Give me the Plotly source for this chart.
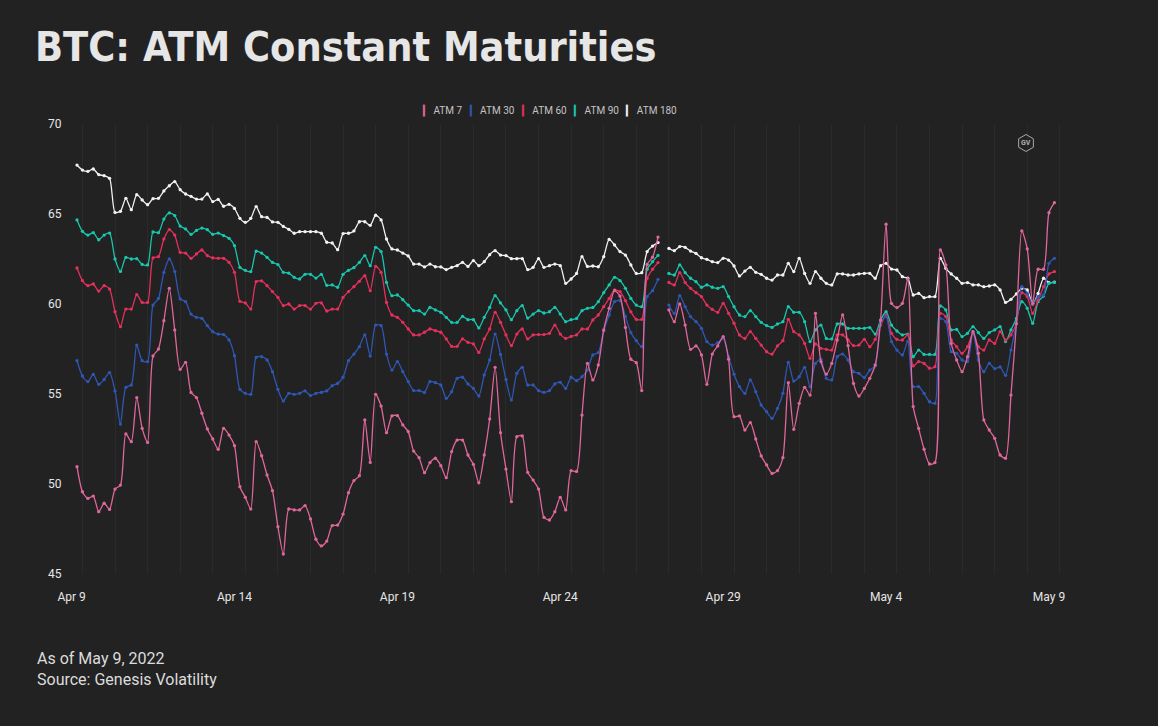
import math
import plotly.graph_objects as go
import pandas as pd

# ---------------- data (4-hourly, one missing observation on Apr 27) ----------------
times = pd.date_range("2022-04-09 04:00", periods=181, freq="4h")

atm180 = [67.72, 67.44, 67.37, 67.50, 67.19, 67.13, 66.98, 65.09, 65.15, 65.87,
          65.24, 66.07, 65.78, 65.52, 65.85, 65.87, 66.28, 66.57, 66.80, 66.35,
          66.11, 65.98, 65.83, 65.83, 66.11, 65.69, 65.81, 65.43, 65.54, 65.31,
          64.76, 64.54, 64.76, 65.41, 64.85, 64.81, 64.56, 64.54, 64.31, 64.15,
          63.93, 64.02, 64.02, 64.02, 64.02, 63.93, 63.43, 63.39, 63.02, 63.91,
          63.93, 64.06, 64.57, 64.57, 64.37, 64.93, 64.67, 63.61, 63.06, 63.00,
          62.83, 62.67, 62.22, 62.22, 62.06, 62.22, 62.07, 62.06, 61.91, 62.04,
          62.13, 62.31, 62.09, 62.41, 62.13, 62.35, 62.74, 62.96, 62.72, 62.69,
          62.52, 62.52, 62.52, 61.91, 62.04, 62.52, 62.04, 62.13, 62.22, 62.13,
          61.15, 61.39, 61.70, 62.63, 62.09, 62.11, 62.07, 62.63, 63.59, 63.28,
          62.91, 62.72, 62.17, 61.70, 61.74, 62.91, 63.22, 63.41, None, 63.09,
          62.96, 63.19, 63.15, 62.94, 62.81, 62.57, 62.48, 62.35, 62.30, 62.54,
          62.44, 62.11, 61.56, 61.83, 62.04, 61.76, 61.65, 61.43, 61.33, 61.61,
          61.61, 62.26, 61.80, 62.54, 61.70, 61.15, 61.80, 61.43, 61.15, 61.06,
          61.67, 61.67, 61.61, 61.61, 61.67, 61.70, 61.70, 61.43, 62.13, 62.26,
          61.94, 61.89, 61.52, 61.43, 60.50, 60.59, 60.35, 60.41, 60.41, 62.54,
          61.98, 61.67, 61.43, 61.15, 61.19, 61.06, 61.06, 60.96, 61.00, 61.06,
          60.78, 60.09, 60.26, 60.56, 60.87, 60.78, 60.00, 60.59, 61.43, 61.19,
          61.22]

atm90 = [64.67, 64.04, 63.83, 63.96, 63.57, 63.83, 63.94, 62.50, 61.81, 62.59,
         62.50, 62.52, 62.20, 62.17, 64.00, 63.96, 64.72, 65.06, 64.91, 64.33,
         64.17, 63.87, 64.09, 64.22, 64.13, 63.87, 63.94, 63.80, 63.65, 63.24,
         62.04, 61.87, 61.80, 62.93, 62.83, 62.59, 62.31, 62.19, 61.76, 61.72,
         61.48, 61.39, 61.65, 61.65, 61.44, 61.65, 61.04, 61.06, 60.93, 61.65,
         61.87, 62.02, 62.31, 62.69, 62.13, 63.15, 62.91, 61.20, 60.46, 60.50,
         60.24, 59.94, 59.63, 59.63, 59.44, 59.81, 59.67, 59.54, 59.26, 58.98,
         58.98, 59.31, 59.13, 59.13, 58.67, 59.26, 59.81, 60.46, 60.06, 59.67,
         59.13, 59.63, 59.91, 59.22, 59.44, 59.63, 59.50, 59.57, 59.81, 59.44,
         59.02, 59.13, 59.20, 59.63, 59.76, 59.81, 60.13, 60.63, 61.06, 61.48,
         61.30, 60.87, 60.31, 59.94, 59.85, 61.93, 62.35, 62.70, None, 61.70,
         61.61, 62.17, 61.74, 61.43, 61.24, 60.93, 61.06, 60.93, 60.87, 60.96,
         60.41, 59.85, 59.39, 59.30, 59.63, 59.30, 58.98, 58.80, 58.70, 58.89,
         59.02, 59.85, 59.54, 59.54, 59.02, 57.91, 58.56, 58.83, 58.09, 58.06,
         58.89, 58.89, 58.65, 58.65, 58.65, 58.65, 58.69, 58.33, 59.11, 59.57,
         58.83, 58.50, 58.28, 58.33, 57.07, 57.44, 57.20, 57.20, 57.20, 59.89,
         59.67, 58.56, 58.59, 58.19, 58.37, 58.74, 58.41, 58.09, 58.41, 58.56,
         58.74, 57.91, 58.56, 59.20, 60.13, 59.76, 58.93, 60.13, 60.44, 61.15,
         61.20]

atm60 = [62.00, 61.30, 61.02, 61.11, 60.72, 61.02, 60.83, 59.57, 58.74, 59.72,
         59.72, 60.52, 60.09, 60.09, 62.56, 62.63, 63.61, 64.13, 63.83, 62.87,
         62.83, 62.54, 62.78, 63.00, 62.69, 62.56, 62.54, 62.54, 62.31, 61.76,
         60.15, 60.06, 59.72, 61.24, 61.28, 61.02, 60.69, 60.37, 59.91, 60.00,
         59.72, 59.91, 59.91, 59.72, 60.04, 60.06, 59.61, 59.72, 59.72, 60.37,
         60.69, 60.96, 61.26, 61.57, 60.74, 62.09, 61.76, 60.09, 59.39, 59.26,
         58.98, 58.61, 58.28, 58.28, 58.43, 58.61, 58.52, 58.43, 58.06, 57.65,
         57.65, 58.06, 57.87, 57.78, 57.31, 58.06, 58.61, 59.54, 58.98, 58.28,
         57.69, 58.33, 58.61, 58.06, 58.28, 58.30, 58.30, 58.37, 58.83, 58.33,
         58.09, 58.20, 58.28, 58.61, 58.61, 59.11, 59.39, 59.85, 60.30, 60.78,
         60.69, 60.19, 59.57, 59.15, 59.15, 61.43, 61.93, 62.30, None, 61.20,
         61.06, 61.74, 61.19, 60.87, 60.63, 60.41, 59.94, 59.70, 59.54, 60.04,
         59.48, 58.93, 58.28, 58.09, 58.46, 58.09, 57.72, 57.35, 57.22, 57.67,
         57.96, 59.15, 58.46, 58.28, 57.81, 56.98, 57.78, 57.54, 57.48, 57.44,
         58.28, 58.28, 58.00, 57.69, 57.72, 58.04, 57.63, 58.04, 58.83, 59.39,
         58.37, 58.04, 58.00, 58.28, 56.56, 56.80, 56.70, 56.43, 56.52, 59.48,
         59.30, 58.00, 57.63, 57.26, 57.63, 58.37, 57.63, 57.44, 58.00, 57.81,
         58.46, 58.00, 58.28, 58.93, 60.63, 60.41, 59.48, 60.22, 60.96, 61.67,
         61.80]

atm30 = [56.85, 56.00, 55.69, 56.09, 55.54, 55.81, 56.19, 55.17, 53.33, 55.37,
         55.50, 57.72, 56.85, 56.80, 59.94, 60.31, 61.76, 62.50, 61.80, 60.28,
         60.13, 59.44, 59.26, 59.20, 58.80, 58.46, 58.33, 58.30, 58.00, 57.13,
         55.26, 55.04, 54.98, 57.04, 57.07, 56.89, 56.24, 55.26, 54.61, 55.04,
         54.98, 55.04, 55.17, 54.91, 55.04, 55.09, 55.17, 55.46, 55.59, 55.93,
         56.85, 57.22, 57.63, 58.28, 57.11, 58.83, 58.80, 57.22, 56.33, 56.80,
         56.24, 55.69, 55.19, 55.19, 55.09, 55.69, 55.63, 55.50, 54.76, 55.13,
         55.87, 55.93, 55.56, 55.31, 54.89, 56.06, 56.89, 58.33, 57.20, 55.81,
         54.67, 56.15, 56.48, 55.50, 55.50, 55.19, 55.09, 55.19, 55.56, 55.65,
         55.31, 55.93, 55.74, 55.96, 56.33, 57.17, 57.30, 58.50, 59.39, 60.13,
         60.19, 59.30, 58.41, 57.96, 57.63, 60.41, 60.74, 61.37, None, 59.94,
         59.48, 60.46, 59.85, 59.30, 59.02, 58.65, 57.91, 57.72, 57.85, 58.09,
         57.07, 56.10, 55.41, 55.04, 55.78, 55.13, 54.39, 54.02, 53.65, 54.20,
         55.04, 56.76, 55.72, 55.96, 56.48, 55.41, 56.70, 56.93, 55.87, 55.78,
         57.07, 57.22, 56.89, 56.24, 56.15, 55.91, 56.33, 56.57, 58.93, 59.30,
         57.91, 57.44, 57.17, 57.91, 55.41, 55.41, 55.04, 54.57, 54.48, 59.20,
         59.02, 57.35, 57.26, 56.89, 56.80, 58.46, 56.89, 56.24, 56.70, 56.41,
         56.50, 56.04, 57.44, 58.93, 60.96, 60.59, 60.00, 60.41, 60.50, 62.26,
         62.54]

atm7 = [50.96, 49.57, 49.20, 49.33, 48.46, 48.93, 48.59, 49.72, 49.94, 52.78,
        52.35, 54.80, 53.09, 52.31, 57.11, 57.50, 59.07, 60.87, 58.56, 56.37,
        56.76, 55.09, 54.80, 53.93, 53.06, 52.50, 51.93, 53.09, 52.72, 52.13,
        49.85, 49.26, 48.61, 52.35, 51.57, 50.50, 49.63, 47.63, 46.11, 48.61,
        48.56, 48.56, 48.80, 48.06, 46.93, 46.56, 46.83, 47.69, 47.72, 48.33,
        49.52, 50.19, 50.46, 53.56, 51.20, 54.98, 54.33, 52.85, 53.78, 53.80,
        53.28, 52.91, 51.83, 51.46, 50.63, 51.19, 51.43, 51.02, 50.35, 51.80,
        52.44, 52.44, 51.61, 51.09, 50.07, 51.61, 53.61, 56.48, 52.85, 50.83,
        49.02, 52.63, 52.67, 50.65, 50.22, 49.72, 48.15, 48.00, 48.46, 49.26,
        48.56, 50.74, 50.70, 53.83, 56.70, 55.78, 56.61, 58.56, 59.76, 60.74,
        60.44, 58.70, 56.93, 56.74, 55.19, 62.20, 62.60, 63.72, None, 59.67,
        59.02, 60.00, 58.83, 57.48, 57.67, 57.17, 55.54, 57.22, 57.67, 58.19,
        56.93, 53.74, 53.78, 53.00, 53.41, 52.50, 51.56, 51.06, 50.59, 50.74,
        51.46, 55.63, 53.04, 54.48, 55.37, 54.94, 59.48, 56.80, 56.10, 56.70,
        58.00, 59.39, 57.69, 55.59, 54.89, 55.31, 55.87, 56.61, 59.10, 64.43,
        60.04, 59.80, 60.04, 61.39, 54.30, 53.09, 51.93, 51.11, 51.19, 63.00,
        62.17, 57.81, 56.89, 56.24, 57.07, 58.46, 57.26, 53.56, 53.00, 52.54,
        51.61, 51.43, 54.94, 58.90, 64.06, 63.06, 60.04, 61.93, 61.93, 65.07,
        65.63]

series_names = ["ATM 7", "ATM 30", "ATM 60", "ATM 90", "ATM 180"]
series_values = [atm7, atm30, atm60, atm90, atm180]
series_colors = ["#e0679b", "#2f57b4", "#e5305c", "#19c6ae", "#f2f2f2"]

x_tick_labels = ["Apr 9", "Apr 14", "Apr 19", "Apr 24", "Apr 29", "May 4", "May 9"]
x_tick_dates = pd.date_range("2022-04-09", periods=7, freq="5D")
y_ticks = [45, 50, 55, 60, 65, 70]

# ---------------- layout geometry ----------------
W, H = 1158, 726
PL, PR, PT, PB = 70, 1062, 124, 574          # plot area in pixels
BG = "#222222"
px_per_day = 32.58
x_start = times[0] - pd.Timedelta(days=(77 - PL) / px_per_day)
x_end = x_start + pd.Timedelta(days=(PR - PL) / px_per_day)

fig = go.Figure()
# draw longest maturity first so ATM 7 sits on top
for name, vals, color in reversed(list(zip(series_names, series_values, series_colors))):
    fig.add_trace(go.Scatter(
        x=times, y=vals, name=name, mode="lines+markers",
        line=dict(color=color, width=1.3, shape="spline", smoothing=0.7),
        marker=dict(size=3.3, color=color),
        connectgaps=False, showlegend=False,
        hovertemplate="%{x|%b %d %H:%M}<br>%{y:.2f}<extra>" + name + "</extra>",
    ))


def px_to_paper(xp, yp):
    return (xp - PL) / (PR - PL), (PB - yp) / (PB - PT)


# legend drawn as a single text line with coloured bars
legend_parts = []
for name, color in zip(series_names, series_colors):
    legend_parts.append(f'<span style="color:{color}">▎</span>\u00a0{name}')
legend_text = "\u00a0\u00a0\u00a0".join(legend_parts)

lx, ly = px_to_paper(549, 111)
annotations = [
    dict(text=legend_text, x=lx, y=ly, xref="paper", yref="paper",
         xanchor="center", yanchor="middle", showarrow=False,
         font=dict(family="Roboto, Arial, sans-serif", size=10, color="#c4c4c4")),
]
fx, fy = px_to_paper(35, 647)
annotations.append(dict(
    text="As of May 9, 2022<br>Source: Genesis Volatility",
    x=fx, y=fy, xref="paper", yref="paper", xanchor="left", yanchor="top",
    align="left", showarrow=False,
    font=dict(family="Roboto, Arial, sans-serif", size=16, color="#dcdcdc")))

# GV logo
gx, gy = px_to_paper(1026, 143)
annotations.append(dict(text="<b>GV</b>", x=gx, y=gy, xref="paper", yref="paper",
                        xanchor="center", yanchor="middle", showarrow=False,
                        font=dict(family="Roboto, Arial, sans-serif", size=7, color="#b0b0b0")))
r = 8.5
pts = []
for k in range(6):
    a = math.radians(90 + 60 * k)
    pts.append(px_to_paper(1026 + r * math.cos(a), 143 - r * math.sin(a)))
path = "M " + " L ".join(f"{p[0]:.5f},{p[1]:.5f}" for p in pts) + " Z"
shapes = [dict(type="path", path=path, xref="paper", yref="paper",
               line=dict(color="#a8a8a8", width=1), fillcolor="rgba(0,0,0,0)")]

fig.update_layout(
    width=W, height=H,
    paper_bgcolor=BG, plot_bgcolor=BG,
    margin=dict(l=PL, r=W - PR, t=PT, b=H - PB),
    title=dict(text="<b>BTC: ATM Constant Maturities</b>",
               x=35 / W, xanchor="left", xref="container",
               y=1 - 47 / H, yanchor="middle", yref="container",
               font=dict(family="DejaVu Sans Condensed, Roboto, sans-serif",
                         size=41, color="#e6e6e6")),
    annotations=annotations,
    shapes=shapes,
    showlegend=False,
    hovermode="closest",
)

fig.update_xaxes(
    type="date", range=[x_start, x_end],
    tickvals=list(x_tick_dates), ticktext=x_tick_labels,
    ticks="outside", ticklen=12, tickcolor="rgba(0,0,0,0)",
    tickfont=dict(family="Roboto, Arial, sans-serif", size=12, color="#e6e6e6"),
    showgrid=False, zeroline=False, showline=False,
    minor=dict(dtick=86400000, tick0="2022-04-09 08:00", showgrid=True,
               gridcolor="rgba(255,255,255,0.04)", gridwidth=1, ticks=""),
)
fig.update_yaxes(
    range=[45, 70], tickvals=y_ticks, ticktext=[str(v) for v in y_ticks],
    ticks="outside", ticklen=5, tickcolor="rgba(0,0,0,0)",
    tickfont=dict(family="Roboto, Arial, sans-serif", size=12, color="#e6e6e6"),
    showgrid=False, zeroline=False, showline=False,
)

fig.write_html(
    "out.html",
    config={"displayModeBar": False},
    post_script="document.body.style.margin='0';"
                "document.body.style.background='" + BG + "';"
                "document.documentElement.style.background='" + BG + "';",
)
